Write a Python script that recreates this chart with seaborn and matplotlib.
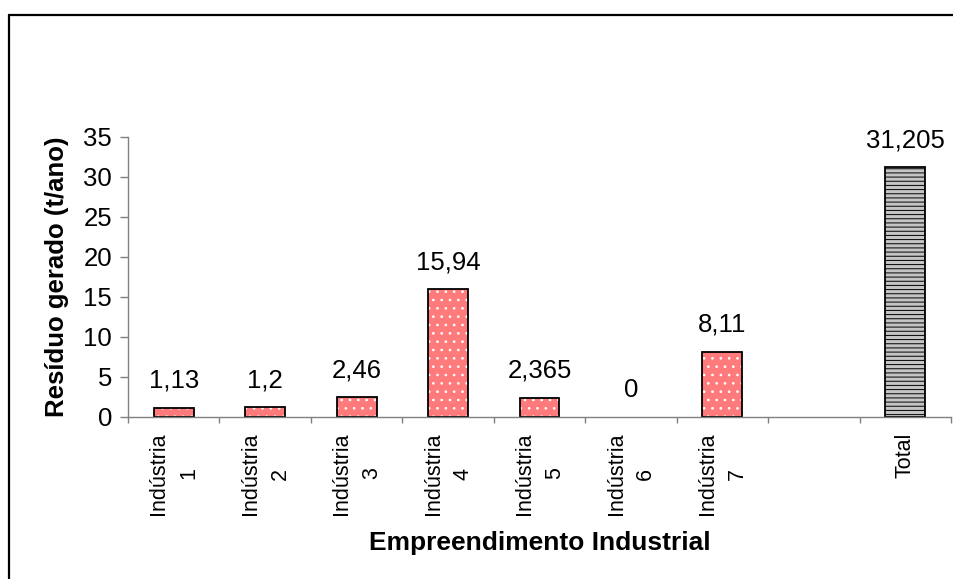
import numpy as np
import pandas as pd
import matplotlib
matplotlib.use("Agg")
import matplotlib.pyplot as plt
from matplotlib.lines import Line2D
import seaborn as sns

# Waste generated per industrial site (t/ano)
categories = ["Indústria\n1", "Indústria\n2", "Indústria\n3", "Indústria\n4",
              "Indústria\n5", "Indústria\n6", "Indústria\n7", "Total"]
values = [1.13, 1.2, 2.46, 15.94, 2.365, 0, 8.11, 31.205]
kinds = ["ind"] * 7 + ["tot"]
# axis order, with an empty slot before the total
order = categories[:7] + [" "] + ["Total"]
yticks = [0, 5, 10, 15, 20, 25, 30, 35]

df = pd.DataFrame({"cat": categories, "val": values, "kind": kinds})

sns.set_theme(style="white")
plt.rcParams["font.family"] = ["Liberation Sans", "DejaVu Sans"]
plt.rcParams["hatch.linewidth"] = 0.7
for key in ["text.color", "axes.labelcolor", "xtick.labelcolor", "ytick.labelcolor"]:
    plt.rcParams[key] = "black"

fig = plt.figure(figsize=(9.54, 5.79), dpi=100)
ax = fig.add_axes([128 / 954, 1 - 417 / 579, (951 - 128) / 954, (417 - 137) / 579])

pink = "#ff7a7a"
grey = "#c4c4c4"

# fill layer with hatching
sns.barplot(data=df, x="cat", y="val", order=order, hue="kind",
            palette={"ind": pink, "tot": grey}, width=0.435, saturation=1,
            dodge=False, legend=False, linewidth=0, ax=ax)
for p in ax.patches:
    fc = p.get_facecolor()
    if abs(fc[1] - fc[0]) > 0.1:  # pink bars
        p.set_edgecolor("white")
        p.set_hatch("..")
    else:
        p.set_edgecolor("black")
        p.set_hatch("----")
    p.set_linewidth(0)

# outline layer
n_fill = len(ax.patches)
sns.barplot(data=df, x="cat", y="val", order=order, color="black",
            fill=False, width=0.435, linewidth=1.3, ax=ax)
for p in ax.patches[n_fill:]:
    if p.get_height() == 0:
        p.set_visible(False)

# value labels
for c, v in zip(categories, values):
    xi = order.index(c)
    ax.annotate(f"{v:g}".replace(".", ","), xy=(xi, v), xytext=(0, 14.5),
                textcoords="offset points", ha="center", va="baseline",
                fontsize=18.5, color="black")

ax.set_xlim(-0.5, len(order) - 0.5)
ax.set_ylim(0, 35)
ax.set_yticks(yticks)
ax.set_yticklabels([str(t) for t in yticks], fontsize=18.5)

ax.set_xticks(range(len(order)))
ax.set_xticklabels(order, rotation=90, fontsize=15.5, multialignment="center",
                   linespacing=1.55)
ax.set_xticks(np.arange(-0.5, len(order)), minor=True)
ax.tick_params(axis="x", which="major", length=0, pad=11)
ax.tick_params(axis="x", which="minor", length=4, width=1, color="#808080",
               direction="out", bottom=True)
ax.tick_params(axis="y", length=5.5, width=1, color="#808080", pad=6,
               direction="out", left=True)

for s in ["top", "right"]:
    ax.spines[s].set_visible(False)
for s in ["left", "bottom"]:
    ax.spines[s].set_color("#808080")
    ax.spines[s].set_linewidth(1)

ax.set_xlabel("Empreendimento Industrial", fontsize=19, fontweight="bold",
              labelpad=12)
ax.set_ylabel("Resíduo gerado (t/ano)", fontsize=18.5, fontweight="bold",
              labelpad=10)
ax.grid(False)

# outer chart frame (left and top edges)
fig.add_artist(Line2D([9 / 954, 9 / 954], [0, 1 - 15 / 579], color="black",
                      lw=1.6, transform=fig.transFigure))
fig.add_artist(Line2D([9 / 954, 1], [1 - 15 / 579, 1 - 15 / 579], color="black",
                      lw=1.6, transform=fig.transFigure))

fig.savefig("out.png", dpi=100)
